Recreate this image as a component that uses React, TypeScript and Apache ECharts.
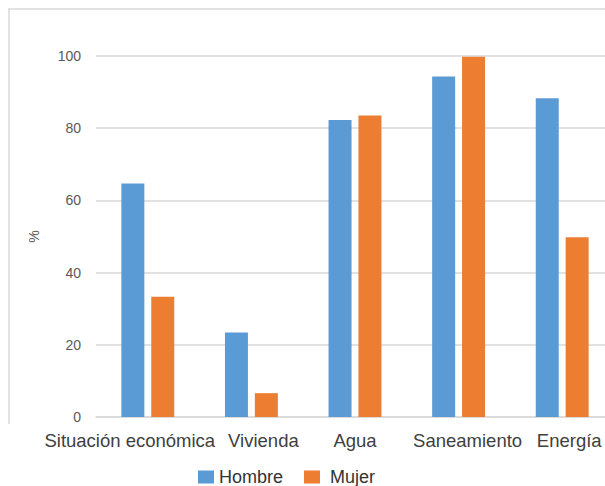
import React, { useEffect, useRef } from "react";
import * as echarts from "echarts";

const categories = ["Situación económica", "Vivienda", "Agua", "Saneamiento", "Energía"];
const hombre = [64.7, 23.4, 82.3, 94.3, 88.3];
const mujer = [33.3, 6.6, 83.5, 99.8, 49.8];
const seriesNames = ["Hombre", "Mujer"];
// horizontal nudges of the category labels, as in the reference
const labelShift = [-18, 12, 0, 9, 7];

export default function App() {
  const ref = useRef<HTMLDivElement>(null);
  useEffect(() => {
    if (!ref.current) return;
    const chart = echarts.init(ref.current, null, { renderer: "svg" });
    const font = "Liberation Sans, Arial, Helvetica, sans-serif";
    const rich: Record<string, any> = {};
    categories.forEach((_, i) => {
      const s = labelShift[i];
      rich["c" + i] = {
        fontSize: 18.5,
        color: "#404040",
        fontFamily: font,
        padding: s < 0 ? [0, -2 * s, 0, 0] : [0, 0, 0, 2 * s],
      };
    });
    chart.setOption({
      animation: false,
      backgroundColor: "#ffffff",
      textStyle: { fontFamily: font },
      graphic: [
        { type: "line", shape: { x1: 8, y1: 9, x2: 620, y2: 9 }, style: { stroke: "#d9d9d9", lineWidth: 1.5 } },
        { type: "line", shape: { x1: 9, y1: 9, x2: 9, y2: 424 }, style: { stroke: "#d9d9d9", lineWidth: 1.5 } },
      ],
      legend: {
        data: seriesNames,
        left: 193,
        top: 463,
        itemWidth: 16,
        itemHeight: 13,
        itemGap: 21,
        icon: "rect",
        formatter: (n: string) => (n === seriesNames[1] ? "{m|" + n + "}" : "{h|" + n + "}"),
        textStyle: {
          fontSize: 18,
          color: "#333333",
          fontFamily: font,
          rich: {
            h: { fontSize: 18, color: "#333333", fontFamily: font },
            m: { fontSize: 18, color: "#333333", fontFamily: font, padding: [0, 0, 0, 5] },
          },
        },
      },
      grid: { left: 96, top: 56, width: 518, bottom: 69, containLabel: false },
      xAxis: {
        type: "category",
        data: categories,
        axisLine: { show: true, lineStyle: { color: "#d9d9d9", width: 1.5 } },
        axisTick: { show: false },
        axisLabel: {
          margin: 14,
          interval: 0,
          formatter: (v: string) => {
            const i = categories.indexOf(v);
            return "{c" + i + "|" + v + "}";
          },
          rich,
        },
      },
      yAxis: {
        type: "value",
        min: 0,
        max: 100,
        interval: 20,
        name: "%",
        nameLocation: "middle",
        nameRotate: 90,
        nameGap: 55,
        nameTextStyle: { fontSize: 14, color: "#595959", fontFamily: font },
        axisLine: { show: false },
        axisTick: { show: false },
        axisLabel: { fontSize: 14, color: "#595959", margin: 15, fontFamily: font },
        splitLine: { lineStyle: { color: "#d9d9d9", width: 1.5 } },
      },
      series: [
        { name: seriesNames[0], type: "bar", data: hombre, barWidth: 23, barGap: "30%", itemStyle: { color: "#5B9BD5" } },
        { name: seriesNames[1], type: "bar", data: mujer, barWidth: 23, barGap: "30%", itemStyle: { color: "#ED7D31" } },
      ],
    });
    return () => chart.dispose();
  }, []);
  return (
    <div style={{ position: "fixed", left: 0, top: 0, width: 605, height: 486, overflow: "hidden" }}>
      <div ref={ref} style={{ width: 620, height: 486 }} />
    </div>
  );
}
